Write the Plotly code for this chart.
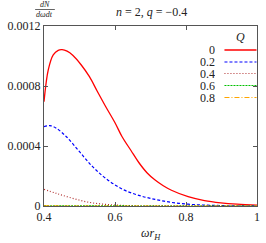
import plotly.graph_objects as go

# ---- data ----
omega_red = [0.400, 0.412, 0.426, 0.440, 0.451, 0.465, 0.481, 0.505, 0.528, 0.550, 0.574, 0.600, 0.620, 0.645, 0.667, 0.690, 0.713, 0.736, 0.759, 0.806, 0.852, 0.898, 0.944, 1.000]
dN_Q0 = [0.000695, 0.000907, 0.001007, 0.001038, 0.001042, 0.001032, 0.001005, 0.000940, 0.000862, 0.000765, 0.000662, 0.000555, 0.000462, 0.000370, 0.000290, 0.000222, 0.000173, 0.000135, 0.000105, 0.000062, 0.000036, 0.000021, 0.000012, 0.000006]

omega_blue = [0.400, 0.417, 0.435, 0.463, 0.500, 0.537, 0.574, 0.620, 0.667, 0.713, 0.759, 0.806, 0.852, 0.898, 0.944, 1.000]
dN_Q02 = [0.000529, 0.000536, 0.000518, 0.000462, 0.000362, 0.000262, 0.000184, 0.000113, 0.000071, 0.000044, 0.000024, 0.000012, 0.000006, 0.000003, 0.000001, 0.0000005]

omega_brown = [0.400, 0.435, 0.481, 0.528, 0.574, 0.620, 0.667, 0.750, 0.850, 1.000]
dN_Q04 = [0.000111, 0.000084, 0.000051, 0.000024, 0.000011, 0.000004, 0.0000015, 0.0000004, 0.0000001, 0.0]

omega_small = [0.400, 0.500, 0.600, 0.700, 0.800, 0.900, 1.000]
dN_Q06 = [0.000002, 0.0000008, 0.0000003, 0.0000001, 0.0, 0.0, 0.0]
dN_Q08 = [0.0000002, 0.0000001, 0.0, 0.0, 0.0, 0.0, 0.0]

legend_labels = ["0", "0.2", "0.4", "0.6", "0.8"]
x_tickvals = [0.4, 0.6, 0.8, 1.0]
x_ticktext = ["0.4", "0.6", "0.8", "1"]
y_tickvals = [0, 0.0004, 0.0008, 0.0012]
y_ticktext = ["0", "0.0004", "0.0008", "0.0012"]

# ---- styling ----
FONT = "Liberation Serif, DejaVu Serif, serif"
TXT = "#222222"
styles = [
    dict(color="#ff0000", dash="solid", width=1.3),
    dict(color="#0000ff", dash="3px,2px", width=1.2),
    dict(color="#b03030", dash="1px,2px", width=1.2),
    dict(color="#00c000", dash="2px,1px", width=1.2),
    dict(color="#ffa500", dash="5px,2px,1px,2px", width=1.2),
]
series = [
    (omega_red, dN_Q0),
    (omega_blue, dN_Q02),
    (omega_brown, dN_Q04),
    (omega_small, dN_Q06),
    (omega_small, dN_Q08),
]

fig = go.Figure()
for (xs, ys), st, lab in zip(series, styles, legend_labels):
    fig.add_trace(go.Scatter(x=xs, y=ys, mode="lines", name=lab,
                             line=dict(color=st["color"], dash=st["dash"], width=st["width"], shape="spline"),
                             showlegend=False))

W, H = 266, 243
L, R, T, B = 44, 260, 26, 206


def px(x):
    return (x - L) / (R - L)


def py(y):
    return (B - y) / (B - T)


axis_common = dict(showgrid=False, zeroline=False, showline=True, linecolor="#555555",
                   linewidth=1, mirror="ticks", ticks="inside", ticklen=4,
                   tickcolor="#555555", tickfont=dict(family=FONT, size=12, color=TXT))

fig.update_xaxes(range=[0.4, 1.0], tickvals=x_tickvals, ticktext=x_ticktext, **axis_common)
fig.update_yaxes(range=[0, 0.0012], tickvals=y_tickvals, ticktext=y_ticktext, **axis_common)

annotations = []
shapes = []


def note(text, x, y, size=12, xanchor="center", height=None):
    a = dict(text=text, xref="paper", yref="paper", x=px(x), y=py(y),
             xanchor=xanchor, yanchor="middle", showarrow=False,
             font=dict(family=FONT, size=size, color=TXT))
    if height is not None:
        a["height"] = height
    annotations.append(a)


# title
note("<i>n</i> = 2, <i>q</i> = −0.4", 153, 12)
# y label as a fraction
note("<i>dN</i>", 45, 4.5, size=8)
note("<i>dωdt</i>", 45, 14, size=8)
shapes.append(dict(type="line", xref="paper", yref="paper", x0=px(35), x1=px(55),
                   y0=py(9.5), y1=py(9.5), line=dict(color=TXT, width=0.7)))
# x label
note("<i>ωr<sub>H</sub></i>", 153, 234)
# legend
note("<i>Q</i>", 243, 37)
rows = [50, 62, 73.5, 85.5, 97.5]
for lab, st, ry in zip(legend_labels, styles, rows):
    note(lab, 219, ry, xanchor="right", height=11)
    shapes.append(dict(type="line", xref="paper", yref="paper", x0=px(227), x1=px(259.5),
                       y0=py(ry), y1=py(ry),
                       line=dict(color=st["color"], dash=st["dash"], width=st["width"])))

fig.update_layout(width=W, height=H, margin=dict(l=L, r=W - R, t=T, b=H - B),
                  paper_bgcolor="white", plot_bgcolor="white",
                  annotations=annotations, shapes=shapes, showlegend=False)

fig.write_html("out.html", config={"displayModeBar": False},
               post_script="document.body.style.margin='0';document.body.style.overflow='hidden';")
